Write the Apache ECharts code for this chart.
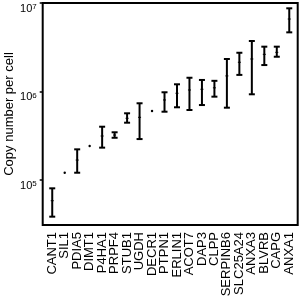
<!DOCTYPE html>
<html>
<head>
<meta charset="utf-8">
<script src="https://cdn.jsdelivr.net/npm/echarts@6/dist/echarts.min.js"></script>
<style>
  html, body { margin: 0; padding: 0; background: #fff; }
  #chart { width: 300px; height: 300px; }
</style>
</head>
<body>
<div id="chart"></div>
<script>
// genes along the x axis
const genes = ['CANT1', 'SIL1', 'PDIA5', 'DIMT1', 'P4HA1', 'PRPF4', 'STUB1', 'UGDH', 'DECR1', 'PTPN1',
  'ERLIN1', 'ACOT7', 'DAP3', 'CLPP', 'SERPINB6', 'SLC25A24', 'ANXA3', 'BLVRB', 'CAPG', 'ANXA1'];
// copy number per cell: centre, lower end, upper end of the bar
const means = [58300, 120800, 168000, 242000, 314000, 322000, 498000, 511000, 602000, 802000,
  955000, 1040000, 1060000, 1100000, 1500000, 2140000, 2330000, 2630000, 2770000, 6590000];
const lows = [38500, 120800, 120800, 242000, 232000, 300000, 444000, 290000, 602000, 591000,
  663000, 618000, 703000, 874000, 656000, 1540000, 930000, 1990000, 2470000, 4660000];
const highs = [80500, 120800, 222000, 242000, 400000, 346000, 567000, 736000, 602000, 980000,
  1206000, 1430000, 1350000, 1320000, 2330000, 2740000, 3720000, 3210000, 3210000, 8710000];
const yTicks = [1e5, 1e6, 1e7];
const yMin = 31000;
const yMax = 1e7;

const font = "'Liberation Sans', Arial, sans-serif";
const chart = echarts.init(document.getElementById('chart'));

const bars = genes.map((g, i) => [i, lows[i], means[i], highs[i]]);

function renderBar(params, api) {
    const x = api.value(0);
    const lo = api.coord([x, api.value(1)]);
    const mid = api.coord([x, api.value(2)]);
    const hi = api.coord([x, api.value(3)]);
    const ink = { stroke: '#000', lineWidth: 2 };
    if (Math.abs(lo[1] - hi[1]) < 1) {
        return { type: 'circle', shape: { cx: mid[0], cy: mid[1], r: 1.2 }, style: { fill: '#000' } };
    }
    const w = 3;
    return {
        type: 'group',
        children: [
            { type: 'line', shape: { x1: hi[0], y1: hi[1], x2: lo[0], y2: lo[1] }, style: ink },
            { type: 'line', shape: { x1: hi[0] - w, y1: hi[1], x2: hi[0] + w, y2: hi[1] }, style: ink },
            { type: 'line', shape: { x1: lo[0] - w, y1: lo[1], x2: lo[0] + w, y2: lo[1] }, style: ink },
            { type: 'line', shape: { x1: mid[0] - 1.5, y1: mid[1], x2: mid[0] + 1.5, y2: mid[1] },
              style: { stroke: '#000', lineWidth: 1 } }
        ]
    };
}

chart.setOption({
    animation: false,
    textStyle: { fontFamily: font },
    grid: [
        // data area, a little inset from the frame
        { left: 46, right: 4.5, top: 3, bottom: 75, outerBoundsMode: 'none' },
        // frame with the y axis
        { left: 42.7, right: 2.3, top: 3, bottom: 75, outerBoundsMode: 'none', show: true,
          borderColor: '#000', borderWidth: 2, backgroundColor: 'transparent' }
    ],
    xAxis: [
        {
            type: 'category',
            gridIndex: 0,
            data: genes,
            boundaryGap: true,
            axisLine: { show: false },
            axisTick: { alignWithLabel: true, length: 5, lineStyle: { color: '#000', width: 1.5 } },
            axisLabel: { rotate: 90, interval: 0, margin: 7, fontSize: 13, color: '#000', fontFamily: font }
        },
        { type: 'value', gridIndex: 1, show: false }
    ],
    yAxis: [
        { type: 'log', gridIndex: 0, min: yMin, max: yMax, show: false },
        {
            type: 'log',
            gridIndex: 1,
            min: yMin,
            max: yMax,
            name: 'Copy number per cell',
            nameLocation: 'middle',
            nameGap: 27,
            nameMoveOverlap: false,
            nameTextStyle: { fontSize: 13, color: '#000', fontFamily: font },
            axisLine: { show: false },
            splitLine: { show: false },
            axisTick: { show: true, customValues: yTicks, length: 3, lineStyle: { color: '#000', width: 1.5 } },
            axisLabel: {
                customValues: yTicks,
                margin: 6,
                verticalAlign: 'top',
                formatter: v => '{b|10}{s|' + Math.round(Math.log10(v)) + '}',
                rich: {
                    b: { fontSize: 11, color: '#000', fontFamily: font },
                    s: { fontSize: 8, color: '#000', fontFamily: font, verticalAlign: 'top' }
                }
            }
        }
    ],
    series: [{
        type: 'custom',
        xAxisIndex: 0,
        yAxisIndex: 0,
        renderItem: renderBar,
        encode: { x: 0, y: [1, 2, 3] },
        data: bars
    }]
});
</script>
</body>
</html>
